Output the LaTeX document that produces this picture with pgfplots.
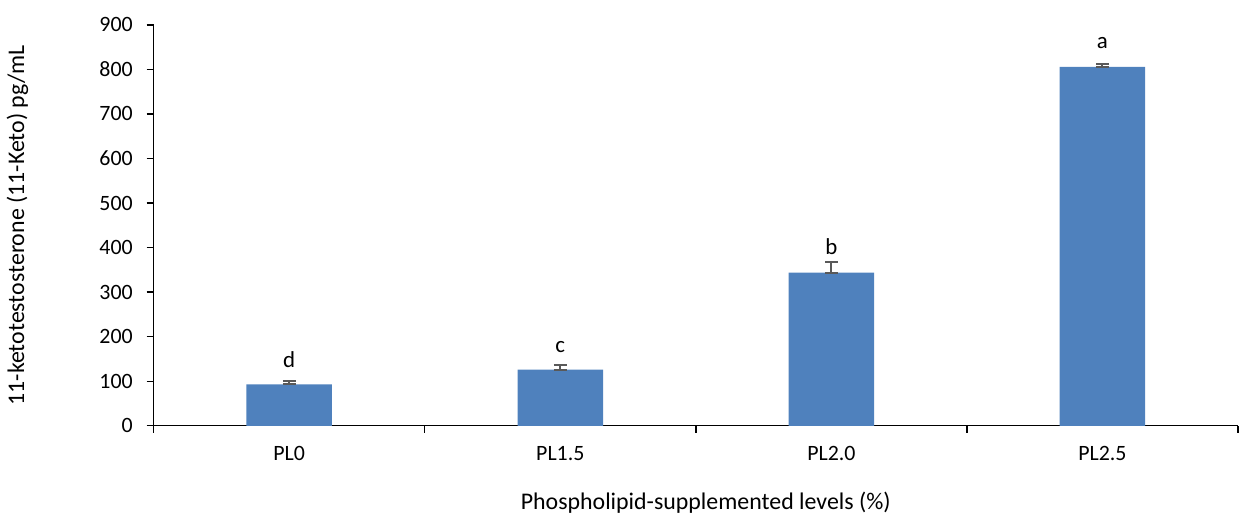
\documentclass[border=0pt]{standalone}
\usepackage{pgfplots}
\pgfplotsset{compat=1.18}
\usepackage{fontspec}
\setmainfont{Carlito}
\definecolor{barblue}{HTML}{4F81BD}
\definecolor{errgray}{HTML}{595959}
\begin{document}
\begin{tikzpicture}
\begin{axis}[
  scale only axis,
  width=545pt, height=201.5pt,
  xmin=-0.5, xmax=3.5,
  ymin=0, ymax=900,
  ytick={0,100,...,900},
  xtick={-0.5,0.5,1.5,2.5,3.5},
  x tick label as interval,
  xticklabels={PL0,PL1.5,PL2.0,PL2.5},
  axis x line*=bottom, axis y line*=left,
  axis line style={-, line width=0.7pt, black},
  tick align=outside,
  tick style={line width=0.7pt, black},
  major tick length=3.5pt,
  font=\fontsize{11pt}{13pt}\selectfont,
  /pgf/number format/assume math mode=true,
  yticklabel style={xshift=-3.5pt},
  xticklabel style={yshift=-3.3pt},
  xlabel={Phospholipid-supplemented levels (\%)},
  ylabel={11-ketotestosterone (11-Keto) pg/mL},
  xlabel style={at={(axis description cs:0.5,0)}, anchor=center, yshift=-38.5pt, xshift=5pt, font=\fontsize{12pt}{14pt}\selectfont},
  ylabel style={at={(axis description cs:-0.1174,0.5)}, anchor=center, yshift=4.5pt, font=\fontsize{12pt}{14pt}\selectfont},
  clip=false,
]
\addplot[ybar, bar width=43pt, fill=barblue, draw=none,
  error bars/.cd, y dir=both, y explicit,
  error bar style={errgray, line width=1pt},
  error mark options={rotate=90, mark size=3.2pt, line width=1pt, errgray}]
  table[x=x, y=y, y error plus=e, y error minus=z] {
x y e z
0 93 7 0
1 126 10 0
2 344 23 0
3 806 6 0
};
\addplot[only marks, mark=none, nodes near coords, point meta=explicit symbolic,
  every node near coord/.append style={anchor=base, inner sep=0pt, font=\fontsize{11.5pt}{13pt}\selectfont}]
  table[x=x, y=y, meta=l] {
x y l
0 130 d
1 164 c
2 384 b
3 848 a
};
\path (current axis.south west) ++(-74pt,-44.5pt) rectangle ++(619.5pt,258.5pt);
\end{axis}
\end{tikzpicture}
\end{document}
